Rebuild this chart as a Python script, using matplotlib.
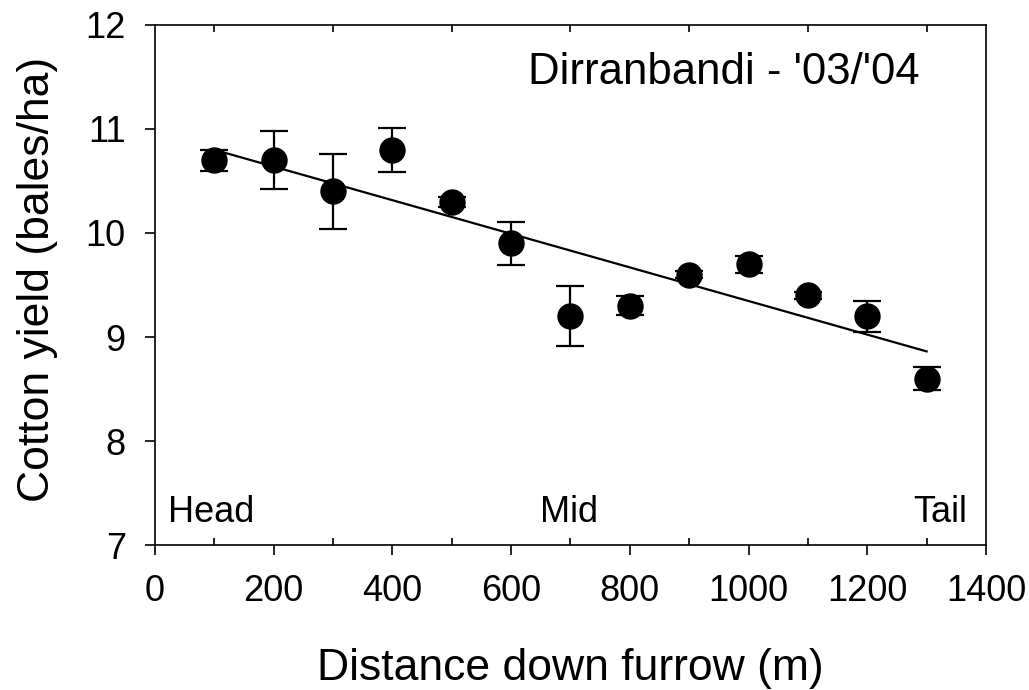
import numpy as np
import matplotlib
matplotlib.use("Agg")
import matplotlib.pyplot as plt
from matplotlib.ticker import MultipleLocator

plt.rcParams['font.family'] = ['Liberation Sans', 'DejaVu Sans']

distance = [100, 200, 300, 400, 500, 600, 700, 800, 900, 1000, 1100, 1200, 1300]
yield_mean = [10.7, 10.7, 10.4, 10.8, 10.3, 9.9, 9.2, 9.3, 9.6, 9.7, 9.4, 9.2, 8.6]
yield_err = [0.10, 0.28, 0.36, 0.21, 0.05, 0.21, 0.29, 0.09, 0.03, 0.08, 0.03, 0.15, 0.11]
site_label = "Dirranbandi - '03/'04"
zone_labels = ["Head", "Mid", "Tail"]

fig = plt.figure(figsize=(10.29, 6.9), dpi=100)
ax = fig.add_axes([0.1506, 0.2101, 0.8076, 0.7537])

x = np.array(distance, dtype=float)
y = np.array(yield_mean, dtype=float)
slope, intercept = np.polyfit(x, y, 1)
xf = np.array([x.min(), x.max()])
ax.plot(xf, slope * xf + intercept, color='black', lw=1.6, zorder=2)

ax.errorbar(x, y, yerr=yield_err, fmt='o', color='black', ms=18,
            elinewidth=1.6, capsize=10, capthick=1.6, zorder=3)

ax.set_xlim(0, 1400)
ax.set_ylim(7, 12)
ax.xaxis.set_major_locator(MultipleLocator(200))
ax.xaxis.set_minor_locator(MultipleLocator(100))
ax.yaxis.set_major_locator(MultipleLocator(1))

ax.tick_params(axis='both', which='major', direction='out', length=7, width=1.2,
               labelsize=26, pad=14)
ax.tick_params(axis='x', which='minor', direction='in', length=5, width=1.2,
               top=True, bottom=True)
for s in ax.spines.values():
    s.set_linewidth(1.2)

ax.set_xlabel("Distance down furrow (m)", fontsize=32, labelpad=28)
ax.set_ylabel("Cotton yield (bales/ha)", fontsize=32, labelpad=20)
ax.yaxis.label.set_y(0.51)

ax.text(1288, 11.54, site_label, fontsize=31.5, ha='right', va='center')
ax.text(22, 7.22, zone_labels[0], fontsize=26, ha='left', va='baseline')
ax.text(649, 7.22, zone_labels[1], fontsize=26, ha='left', va='baseline')
ax.text(1368, 7.22, zone_labels[2], fontsize=26, ha='right', va='baseline')

fig.savefig("out.png", dpi=100)
